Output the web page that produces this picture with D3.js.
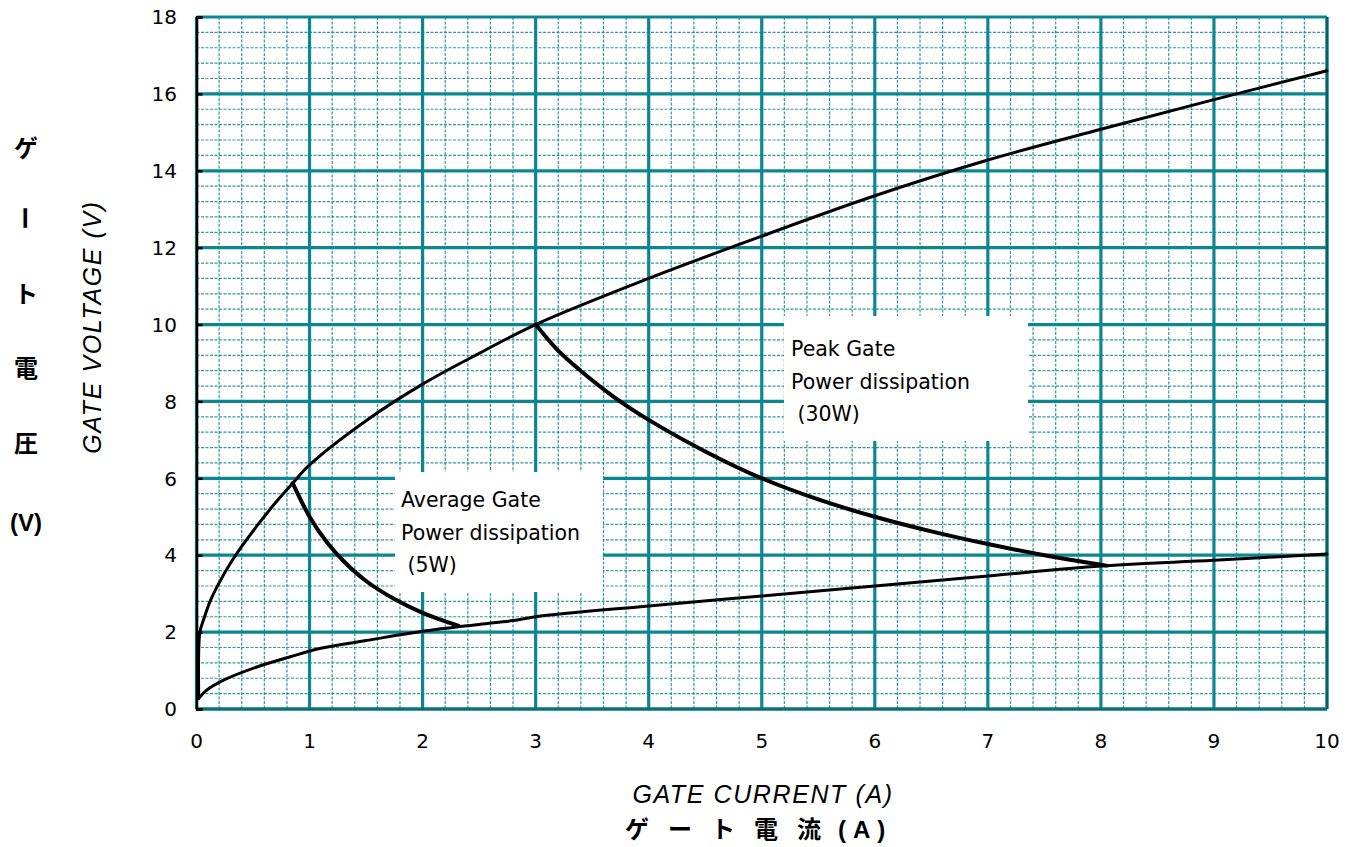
<!DOCTYPE html>
<html>
<head>
<meta charset="utf-8">
<script src="https://cdn.jsdelivr.net/npm/d3@7"></script>
<style>
  html, body { margin: 0; padding: 0; background: #fff; }
  svg { display: block; }
</style>
</head>
<body>
<svg id="chart" width="1350" height="847"></svg>
<script>
// Gate characteristics: gate current (A) vs gate voltage (V)
const xTicks = [0, 1, 2, 3, 4, 5, 6, 7, 8, 9, 10];
const yTicks = [0, 2, 4, 6, 8, 10, 12, 14, 16, 18];

// Upper limit of gate voltage
const upperI = [0.02, 0.03, 0.06, 0.12, 0.2, 0.3, 0.4, 0.55, 0.7, 0.85, 1.0, 1.5, 2.0, 2.5, 3.0, 4.0, 5.0, 6.0, 7.0, 8.0, 9.0, 10.0];
const upperV = [0.27, 2.0, 2.3, 2.8, 3.28, 3.79, 4.23, 4.82, 5.37, 5.87, 6.35, 7.5, 8.45, 9.25, 10.0, 11.2, 12.3, 13.35, 14.28, 15.08, 15.85, 16.6];

// Lower limit of gate voltage
const lowerI = [0.02, 0.09, 0.24, 0.54, 0.83, 1.1, 1.5, 2.0, 2.5, 2.8, 3.0, 4.0, 5.0, 6.0, 7.0, 8.0, 9.0, 10.0];
const lowerV = [0.28, 0.49, 0.75, 1.1, 1.36, 1.58, 1.78, 2.02, 2.2, 2.3, 2.4, 2.68, 2.94, 3.2, 3.46, 3.72, 3.87, 4.03];

// Average gate power dissipation (5W)
const avgI = [0.85, 1.0, 1.15, 1.3, 1.5, 1.75, 2.0, 2.32];
const avgV = [5.88, 5.0, 4.35, 3.85, 3.33, 2.86, 2.5, 2.16];

// Peak gate power dissipation (30W)
const peakI = [3.0, 3.19, 3.39, 3.7, 4.0, 4.5, 5.0, 5.5, 6.0, 6.5, 7.0, 7.5, 8.05];
const peakV = [10.0, 9.35, 8.82, 8.1, 7.52, 6.7, 6.0, 5.45, 5.0, 4.62, 4.29, 4.0, 3.73];

const avgLabel = ["Average Gate", "Power dissipation", " (5W)"];
const peakLabel = ["Peak Gate", "Power dissipation", " (30W)"];

const xTitle = "GATE CURRENT (A)";
const yTitle = "GATE VOLTAGE (V)";
const xTitleJa = ["ゲ", "ー", "ト", "電", "流"];
const yTitleJa = ["ゲ", "ー", "ト", "電", "圧"];

const svg = d3.select("#chart");
const teal = "#0b8791";
const pL = 196.5, pR = 1327, pT = 17, pB = 709;

const x = d3.scaleLinear().domain([0, 10]).range([pL, pR]);
const y = d3.scaleLinear().domain([0, 18]).range([pB, pT]);

const grid = svg.append("g");

// minor grid (dashed)
const minorX = d3.range(0, 10.001, 0.2).filter(v => Math.abs(v - Math.round(v)) > 1e-6);
const minorY = d3.range(0, 18.001, 0.4).filter(v => Math.abs(v / 2 - Math.round(v / 2)) > 1e-6);
grid.append("g").selectAll("line").data(minorX).join("line")
  .attr("x1", d => x(d)).attr("x2", d => x(d)).attr("y1", pT).attr("y2", pB)
  .attr("stroke", teal).attr("stroke-opacity", 0.85).attr("stroke-width", 1.2).attr("stroke-dasharray", "3,1.5");
grid.append("g").selectAll("line").data(minorY).join("line")
  .attr("y1", d => y(d)).attr("y2", d => y(d)).attr("x1", pL).attr("x2", pR)
  .attr("stroke", teal).attr("stroke-opacity", 0.85).attr("stroke-width", 1.2).attr("stroke-dasharray", "3,1.5");

// major grid
grid.append("g").selectAll("line").data(xTicks).join("line")
  .attr("x1", d => x(d)).attr("x2", d => x(d)).attr("y1", pT).attr("y2", pB)
  .attr("stroke", teal).attr("stroke-width", 3.2);
grid.append("g").selectAll("line").data(yTicks).join("line")
  .attr("y1", d => y(d)).attr("y2", d => y(d)).attr("x1", pL).attr("x2", pR)
  .attr("stroke", teal).attr("stroke-width", 3.2);

// frame
svg.append("line").attr("x1", pR).attr("x2", pR).attr("y1", pT).attr("y2", pB)
  .attr("stroke", "#0a5e66").attr("stroke-width", 2.5);
svg.append("line").attr("x1", pL).attr("x2", pR).attr("y1", pB).attr("y2", pB)
  .attr("stroke", "#0a6f78").attr("stroke-width", 3);

// label boxes (white panels over the grid)
svg.append("rect").attr("x", 395).attr("y", 472).attr("width", 208).attr("height", 120).attr("fill", "#fff");
svg.append("rect").attr("x", 784).attr("y", 316).attr("width", 244).attr("height", 125).attr("fill", "#fff");

// y axis (black) with inward ticks
const yAxis = d3.axisRight(y).tickValues(yTicks).tickSize(6).tickFormat("");
const ya = svg.append("g").attr("transform", `translate(${pL},0)`).call(yAxis);
ya.select(".domain").attr("stroke", "#000").attr("stroke-width", 2.5);
ya.selectAll(".tick line").attr("stroke", "#000").attr("stroke-width", 2.5);

// tick labels
const font = "'Liberation Sans', Arial, sans-serif";
const numFont = "'DejaVu Sans', sans-serif";
svg.append("g").selectAll("text").data(yTicks).join("text")
  .attr("x", 177).attr("y", d => y(d)).attr("dy", "0.36em")
  .attr("text-anchor", "end").attr("font-family", numFont).attr("font-size", 20)
  .text(d => d);
svg.append("g").selectAll("text").data(xTicks).join("text")
  .attr("x", d => x(d)).attr("y", 748)
  .attr("text-anchor", "middle").attr("font-family", numFont).attr("font-size", 20)
  .text(d => d);

// curves
const line = d3.line().x(d => x(d[0])).y(d => y(d[1])).curve(d3.curveCatmullRom.alpha(0.5));
function drawCurve(xs, ys, w) {
  svg.append("path").datum(d3.zip(xs, ys)).attr("d", line)
    .attr("fill", "none").attr("stroke", "#000").attr("stroke-width", w)
    .attr("stroke-linejoin", "round").attr("stroke-linecap", "round");
}
drawCurve(upperI, upperV, 3);
drawCurve(lowerI, lowerV, 3);
drawCurve(avgI, avgV, 4);
drawCurve(peakI, peakV, 4);

// annotations
function label(lines, x0, y0) {
  svg.append("g").selectAll("text").data(lines).join("text")
    .attr("x", x0).attr("y", (d, i) => y0 + i * 32.5)
    .attr("font-family", numFont).attr("font-size", 20.5)
    .style("white-space", "pre")
    .text(d => d);
}
label(avgLabel, 401, 507);
label(peakLabel, 791, 356);

// x axis titles
svg.append("text").attr("x", 763).attr("y", 803).attr("text-anchor", "middle")
  .attr("font-family", font).attr("font-size", 25).attr("font-style", "italic")
  .attr("letter-spacing", 1.6).text(xTitle);
const jaFont = "'Noto Sans CJK JP', sans-serif";
svg.append("g").selectAll("text").data(xTitleJa).join("text")
  .attr("x", (d, i) => 625 + i * 43).attr("y", 838)
  .attr("font-family", jaFont).attr("font-size", 24).attr("font-weight", "bold")
  .text(d => d);
svg.append("text").attr("x", 838).attr("y", 838)
  .attr("font-family", font).attr("font-size", 24).attr("font-weight", "bold")
  .attr("letter-spacing", 7).text("(A)");

// y axis titles
svg.append("text").attr("transform", "translate(101,327) rotate(-90)").attr("text-anchor", "middle")
  .attr("font-family", font).attr("font-size", 25).attr("font-style", "italic")
  .attr("letter-spacing", 1.6).text(yTitle);

const vY = [146, 218, 292, 366, 441];
yTitleJa.forEach((c, i) => {
  const t = svg.append("text")
    .attr("font-family", jaFont).attr("font-size", 24).attr("font-weight", "bold")
    .attr("text-anchor", "middle").attr("dominant-baseline", "central").text(c);
  if (c === "ー") t.attr("transform", `translate(26,${vY[i]}) rotate(90)`);
  else t.attr("x", 26).attr("y", vY[i]);
});
svg.append("text").attr("x", 26).attr("y", 522).attr("text-anchor", "middle").attr("dominant-baseline", "central")
  .attr("font-family", font).attr("font-size", 24).attr("font-weight", "bold").text("(V)");
</script>
</body>
</html>
